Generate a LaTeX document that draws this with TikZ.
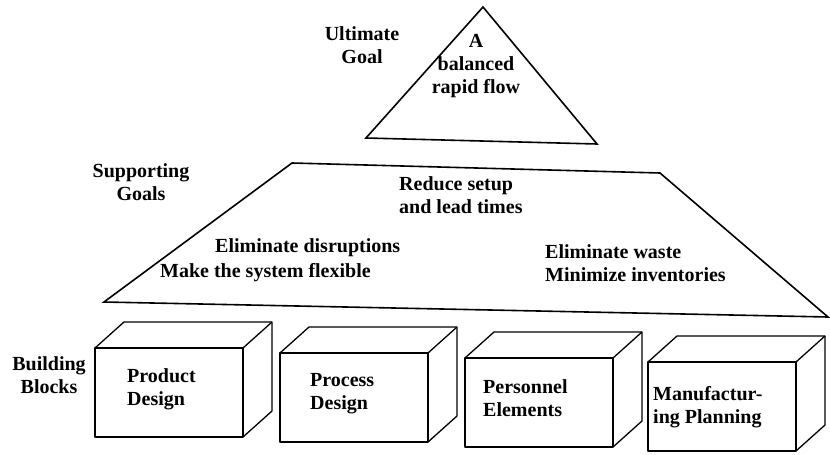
\documentclass[tikz,border=0pt]{standalone}
\usepackage{fontspec}
\setmainfont{Liberation Serif}
\begin{document}
\begin{tikzpicture}[x=1pt,y=-1pt,
  outline/.style={draw=black, line width=1.6pt, line join=miter},
  boxline/.style={draw=black, line width=1.3pt, line join=round},
  lbl/.style={font=\fontsize{20}{23}\selectfont\bfseries, inner sep=0pt, text=black},
]
\useasboundingbox (0,0) rectangle (830,455);

% ultimate goal triangle
\coordinate (tA) at (483,7);
\coordinate (tL) at (366,138);
\coordinate (tR) at (597,144);
\draw[outline] (tA) -- (tL) -- (tR) -- cycle;

% supporting goals trapezoid
\coordinate (zTL) at (292,163);
\coordinate (zTR) at (660,173);
\coordinate (zBR) at (828,317);
\coordinate (zBL) at (104,302);
\draw[outline] (zTL) -- (zTR) -- (zBR) -- (zBL) -- cycle;

% building blocks
\foreach \n/\x/\y in {b1/95/348, b2/280/353, b3/465/358, b4/648/362} {
  \draw[boxline] (\x,\y) rectangle ++(148,89);
  \draw[boxline] (\x,\y) -- ++(29,-26) -- ++(148,0) -- ++(0,89) -- ++(-29,26);
  \draw[boxline] (\x+148,\y) -- ++(29,-26);
}

% labels
\node[lbl, align=center, anchor=north] (ult) at (362,26.5) {Ultimate\\Goal};
\node[lbl, align=center, anchor=north] (flow) at (476,34.5) {A\\balanced\\rapid flow};
\node[lbl, align=center, anchor=north] (sup) at (141,163.5) {Supporting\\Goals};
\node[lbl, align=left, anchor=north west] (red) at (399,176.5) {Reduce setup\\and lead times};
\node[lbl, anchor=base west] (elimd) at (215,252) {Eliminate disruptions};
\node[lbl, anchor=base west] (flex) at (160,277) {Make the system flexible};
\node[lbl, align=left, anchor=north west] (waste) at (545,244.5) {Eliminate waste\\Minimize inventories};
\node[lbl, align=center, anchor=north] (bb) at (49,356) {Building\\Blocks};
\node[lbl, align=left, anchor=north west] (pd) at (127,368.5) {Product\\Design};
\node[lbl, align=left, anchor=north west] (prd) at (310,373.5) {Process\\Design};
\node[lbl, align=left, anchor=north west] (pe) at (483,379.5) {Personnel\\Elements};
\node[lbl, align=left, anchor=north west] (mp) at (653,386.5) {Manufactur-\\ing Planning};
\end{tikzpicture}
\end{document}
